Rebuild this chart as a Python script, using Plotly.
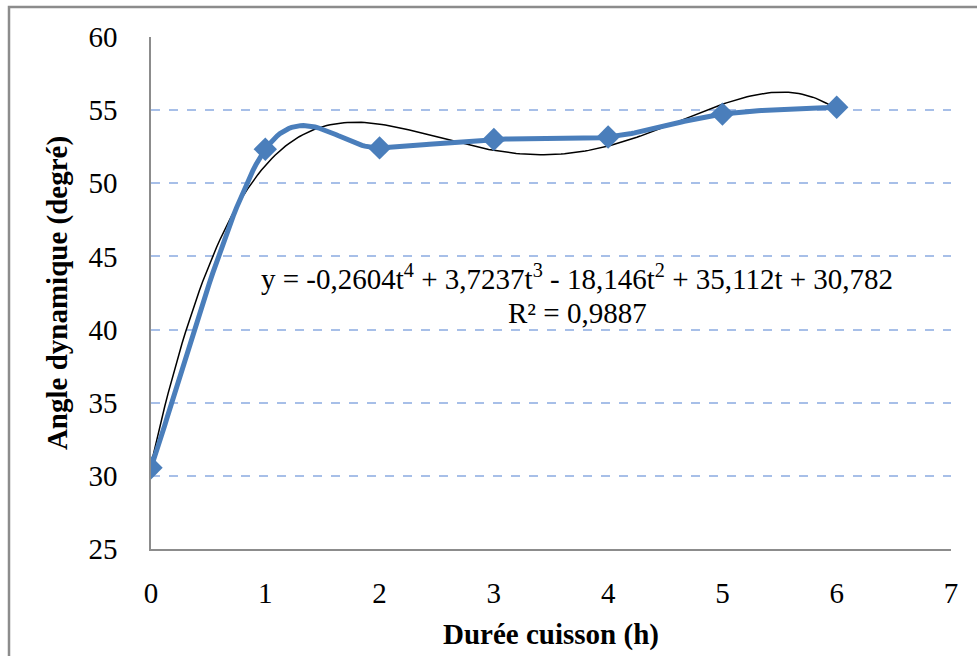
import numpy as np
import plotly.graph_objects as go

duree = [0, 1, 2, 3, 4, 5, 6]
angle = [30.55, 52.33, 52.42, 53.0, 53.16, 54.73, 55.2]
# trendline coefficients as displayed (t^4, t^3, t^2, t, const)
coefs = [-0.2604, 3.7237, -18.146, 35.112, 30.782]
x_ticks = [0, 1, 2, 3, 4, 5, 6, 7]
y_ticks = [25, 30, 35, 40, 45, 50, 55, 60]

# polynomial trendline from displayed coefficients
t = np.linspace(0, 6, 200)
trend = np.polyval(coefs, t)

# Excel-style smoothed line (Catmull-Rom -> cubic Bezier) computed from the data
P = np.column_stack([duree, angle]).astype(float)
Pext = np.vstack([P[0], P, P[-1]])
sx, sy = [], []
u = np.linspace(0, 1, 40)[:, None]
for i in range(len(P) - 1):
    p0, p1, p2, p3 = Pext[i], Pext[i + 1], Pext[i + 2], Pext[i + 3]
    c1 = p1 + (p2 - p0) / 6
    c2 = p2 - (p3 - p1) / 6
    b = (1 - u) ** 3 * p1 + 3 * (1 - u) ** 2 * u * c1 + 3 * (1 - u) * u ** 2 * c2 + u ** 3 * p2
    sx.extend(b[:, 0]); sy.extend(b[:, 1])

blue = "#4a7ebb"
font = "Liberation Serif"
fnt = dict(family=font, size=29, color="black")

fig = go.Figure()
fig.add_trace(go.Scatter(x=t, y=trend, mode="lines",
                         line=dict(color="black", width=1.5), hoverinfo="skip"))
fig.add_trace(go.Scatter(x=sx, y=sy, mode="lines",
                         line=dict(color=blue, width=5), hoverinfo="skip"))
fig.add_trace(go.Scatter(x=duree, y=angle, mode="markers",
                         marker=dict(symbol="diamond", size=18, color=blue)))

fig.add_annotation(x=3.73, y=43.6, xref="x", yref="y", showarrow=False,
                   text="y = -0,2604t<sup>4</sup> + 3,7237t<sup>3</sup> - 18,146t<sup>2</sup> + 35,112t + 30,782",
                   font=fnt)
fig.add_annotation(x=3.73, y=41.1, xref="x", yref="y", showarrow=False,
                   text="R² = 0,9887", font=fnt)

fig.add_shape(type="rect", xref="paper", yref="paper",
              x0=(9 - 151) / 800, x1=1.06, y0=-0.25, y1=(549 - 7) / 512,
              line=dict(color="#8c8c8c", width=2.5), layer="below")

fig.update_layout(
    width=977, height=656,
    margin=dict(l=151, r=26, t=37, b=107, autoexpand=False),
    paper_bgcolor="white", plot_bgcolor="white",
    showlegend=False,
    font=fnt,
    xaxis=dict(range=[0, 7], tickvals=x_ticks, showgrid=False, zeroline=False,
               showline=True, linecolor="#8c8c8c", linewidth=1.5,
               ticks="", ticklabelstandoff=17, tickfont=fnt,
               title=dict(text="<b>Durée cuisson (h)</b>", standoff=16, font=fnt)),
    yaxis=dict(range=[25, 60], tickvals=y_ticks, showgrid=True,
               gridcolor="#a7bfe8", griddash="dash", gridwidth=2,
               zeroline=False, showline=True, linecolor="#8c8c8c", linewidth=1.5,
               ticks="", ticklabelstandoff=26, tickfont=fnt,
               title=dict(text="<b>Angle dynamique (degré)</b>", standoff=12, font=fnt)),
)

fig.write_html("out.html")
